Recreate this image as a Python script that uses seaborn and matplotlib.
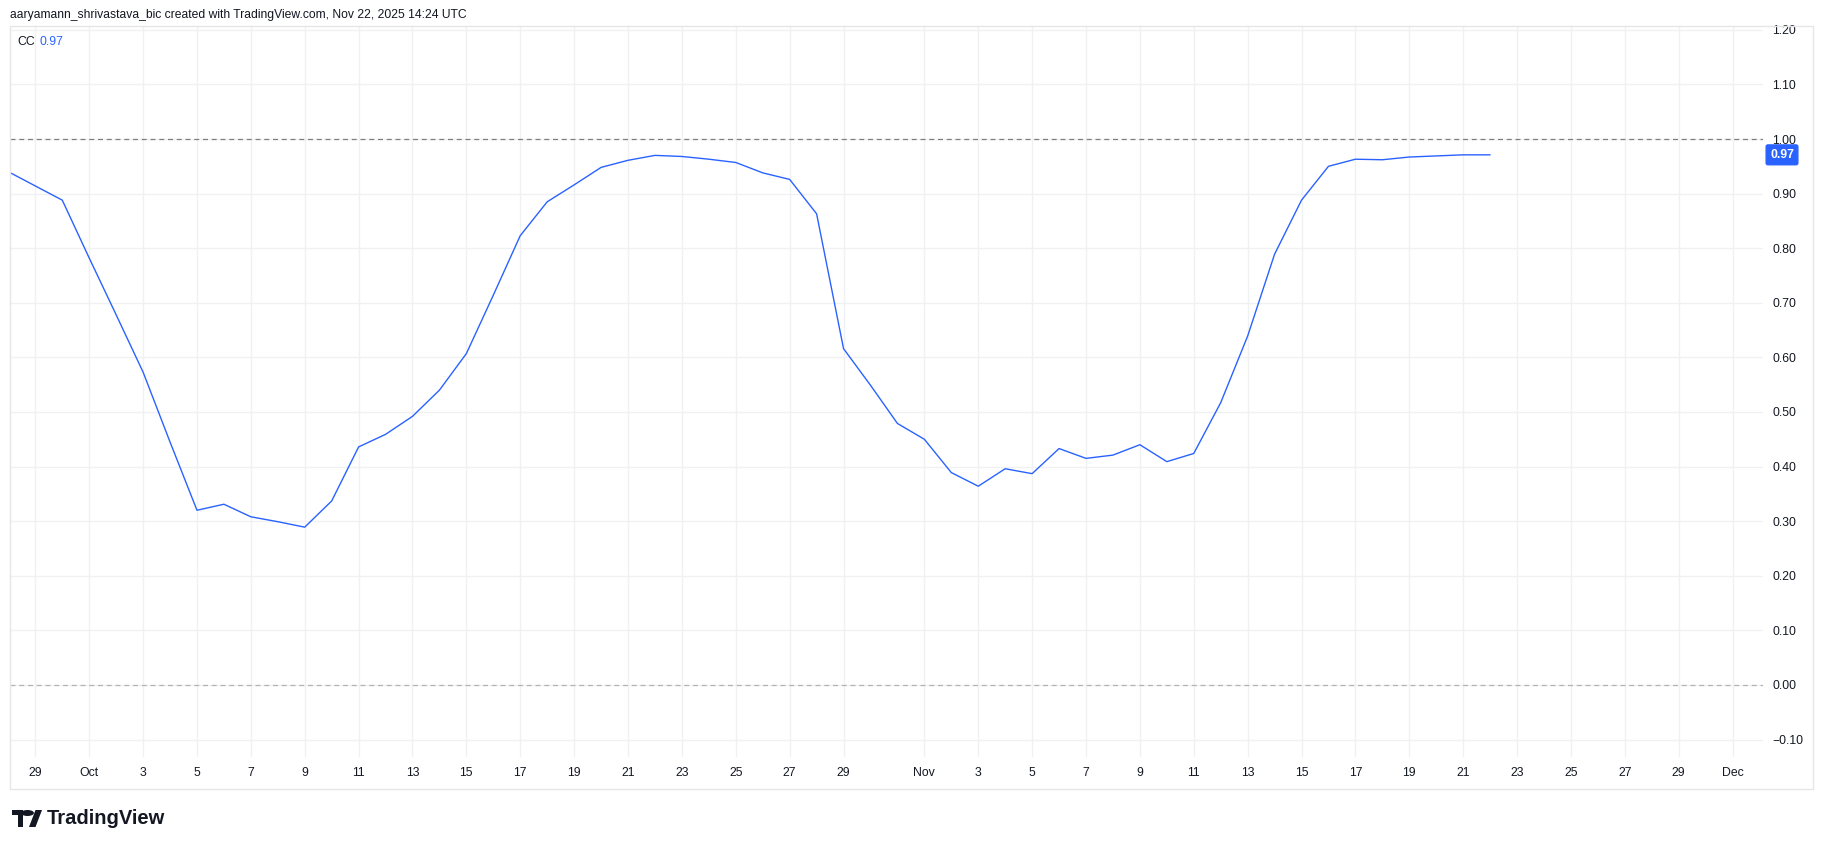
import numpy as np
import pandas as pd
import seaborn as sns
import matplotlib.pyplot as plt
from matplotlib.patches import Rectangle, Circle, Polygon
from matplotlib.transforms import blended_transform_factory

# daily correlation coefficient values
dates = pd.date_range("2025-09-28", "2025-11-22", freq="D")
cc = [0.940, 0.914, 0.888,
      0.782, 0.678, 0.573, 0.445, 0.320, 0.331, 0.308, 0.299, 0.289, 0.337,
      0.436, 0.459, 0.492, 0.540, 0.607, 0.714, 0.823, 0.885, 0.916, 0.948,
      0.961, 0.970, 0.968, 0.963, 0.957, 0.938, 0.926, 0.863, 0.616, 0.549,
      0.479,
      0.450, 0.389, 0.364, 0.396, 0.387, 0.433, 0.415, 0.421, 0.440, 0.409,
      0.424, 0.517, 0.639, 0.789, 0.888, 0.950, 0.963, 0.962, 0.967, 0.969,
      0.971, 0.971]
last_value = "0.97"
y_ticks = [-0.10, 0.00, 0.10, 0.20, 0.30, 0.40, 0.50, 0.60, 0.70, 0.80, 0.90, 1.00, 1.10, 1.20]
header = "aaryamann_shrivastava_bic created with TradingView.com, Nov 22, 2025 14:24 UTC"

# time axis ticks: Sep 29, every 2nd day of Oct/Nov, Dec 1
tick_dates = [pd.Timestamp(2025, 9, 29)]
tick_dates += [pd.Timestamp(2025, m, d) for m in (10, 11) for d in range(1, 30, 2)]
tick_dates += [pd.Timestamp(2025, 12, 1)]
tick_labels = [t.strftime("%b") if t.day == 1 else str(t.day) for t in tick_dates]

W, H = 1825, 849
BLUE = "#2962FF"
GRID = "#f0f1f3"
TXT = "#131722"

sns.set_theme(style="white")
plt.rcParams["font.family"] = ["Liberation Sans", "DejaVu Sans"]

fig = plt.figure(figsize=(W / 100, H / 100), dpi=100)
fig.patch.set_facecolor("white")

def fx(px):
    return px / W

def fy(py):
    return 1 - py / H

ax = fig.add_axes([fx(10), fy(757), fx(1763) - fx(10), fy(26) - fy(757)])
ax.set_facecolor("white")

sns.lineplot(x=dates, y=cc, ax=ax, color=BLUE, linewidth=1.0)

ax.set_xlim(pd.Timestamp("2025-09-28 01:26"), pd.Timestamp("2025-12-02 03:07"))
ax.set_ylim(-0.132, 1.207)

ax.set_xticks(tick_dates)
ax.set_xticklabels(tick_labels)
ax.set_yticks(y_ticks)
ax.set_yticklabels([f"{v:.2f}".replace("-", "\u2212") for v in y_ticks])
ax.yaxis.tick_right()
ax.tick_params(axis="both", length=0, labelsize=8.8, labelcolor=TXT)
ax.tick_params(axis="y", pad=6.5)
ax.tick_params(axis="x", pad=7)
ax.grid(True, color=GRID, linewidth=1.0)
for s in ax.spines.values():
    s.set_visible(False)
ax.set_xlabel("")
ax.set_ylabel("")

# horizontal reference levels
ax.axhline(1.0, color="#808080", linewidth=0.9, linestyle=(0, (4, 3)), zorder=1)
ax.axhline(0.0, color="#b4b4b4", linewidth=0.9, linestyle=(0, (4, 3)), zorder=1)

# last value label on price scale
tr = blended_transform_factory(ax.transAxes, ax.transData)
ax.text(1 + (1782 - 1763) / (1763 - 10), cc[-1], last_value, transform=tr,
        ha="center", va="center", color="white", fontsize=8.8, fontweight="bold",
        bbox=dict(boxstyle="round,pad=0.32,rounding_size=0.15", fc=BLUE, ec=BLUE),
        clip_on=False, zorder=5)

# legend
fig.text(fx(17), fy(42), "CC", ha="left", va="center", fontsize=8.8, color=TXT)
fig.text(fx(39), fy(42), last_value, ha="left", va="center", fontsize=8.8, color=BLUE)

# header
fig.text(fx(10), fy(15), header, ha="left", va="center", fontsize=8.7, color=TXT)

# pane borders
fig.add_artist(Rectangle((fx(10), fy(789)), fx(1813) - fx(10), fy(26) - fy(789),
                         transform=fig.transFigure, fill=False, ec="#e6e6e6", lw=1.0))

# TradingView logo
lt = fig.transFigure
fig.add_artist(Rectangle((fx(12), fy(815)), fx(11), fy(810) - fy(815), transform=lt, fc=TXT, ec="none"))
fig.add_artist(Rectangle((fx(17.5), fy(827)), fx(5.5), fy(810) - fy(827), transform=lt, fc=TXT, ec="none"))
fig.add_artist(Circle((fx(27.5), fy(813)), 3.0 / H, transform=lt, fc=TXT, ec="none"))
fig.add_artist(Polygon([(fx(29), fy(827)), (fx(35.5), fy(827)), (fx(42), fy(810)), (fx(35.5), fy(810))],
                       closed=True, transform=lt, fc=TXT, ec="none"))
fig.text(fx(47), fy(818.5), "TradingView", ha="left", va="center", fontsize=14.5,
         fontweight="bold", color=TXT)

fig.savefig("out.png", dpi=100, facecolor="white")
